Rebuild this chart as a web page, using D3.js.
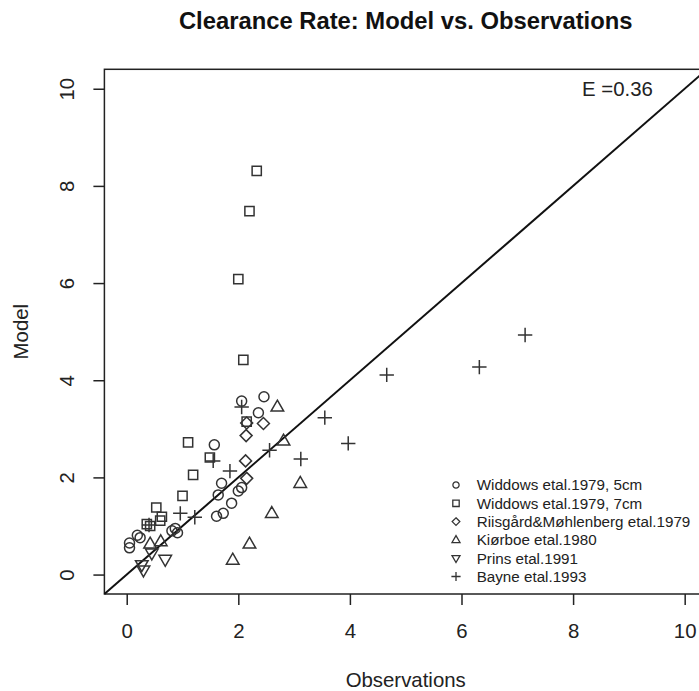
<!DOCTYPE html>
<html>
<head>
<meta charset="utf-8">
<script src="https://cdn.jsdelivr.net/npm/d3@7"></script>
<style>
  html, body { margin: 0; padding: 0; background: #fff; }
  svg { display: block; font-family: "Liberation Sans", Arial, Helvetica, sans-serif; }
</style>
</head>
<body>
<svg id="chart" width="699" height="691"></svg>
<script>
// Observed vs. modelled clearance rates, one array per study: [observation, model]
const widdows5cm = [
  [0.05, 0.65], [0.05, 0.55], [0.19, 0.81], [0.24, 0.76], [0.81, 0.90], [0.87, 0.95],
  [0.91, 0.86], [1.61, 1.20], [1.73, 1.26], [1.88, 1.47], [1.64, 1.64], [1.70, 1.88],
  [2.00, 1.72], [2.06, 1.79], [1.57, 2.67], [2.06, 3.57], [2.46, 3.66], [2.36, 3.33]
];
const widdows7cm = [
  [2.33, 8.31], [2.20, 7.48], [2.00, 6.08], [2.09, 4.42], [2.15, 3.15], [1.10, 2.72],
  [1.49, 2.41], [1.19, 2.05], [1.00, 1.62], [0.53, 1.38], [0.63, 1.19], [0.60, 1.11],
  [0.36, 1.04], [0.42, 1.00]
];
const riisgard = [
  [2.45, 3.11], [2.14, 2.86], [2.13, 2.34], [2.15, 1.98], [2.15, 3.12]
];
const kiorboe = [
  [2.70, 3.45], [2.81, 2.75], [3.11, 1.88], [2.60, 1.26], [2.20, 0.63], [1.90, 0.30],
  [0.42, 0.63], [0.61, 0.68]
];
const prins = [
  [0.45, 0.44], [0.69, 0.31], [0.27, 0.20], [0.30, 0.09]
];
const bayne = [
  [7.14, 4.93], [6.32, 4.27], [4.66, 4.11], [3.55, 3.23], [3.97, 2.70], [3.12, 2.38],
  [2.56, 2.56], [2.06, 3.45], [1.55, 2.34], [1.85, 2.13], [0.96, 1.26], [1.22, 1.18],
  [0.40, 1.02]
];

const seriesNames = [
  "Widdows etal.1979, 5cm",
  "Widdows etal.1979, 7cm",
  "Riisgård&Møhlenberg etal.1979",
  "Kiørboe etal.1980",
  "Prins etal.1991",
  "Bayne etal.1993"
];
const seriesShapes = ["circle", "square", "diamond", "triangleUp", "triangleDown", "plus"];
const seriesData = [widdows5cm, widdows7cm, riisgard, kiorboe, prins, bayne];

const tickValues = [0, 2, 4, 6, 8, 10];
const efficiencyLabel = "E =0.36";
const titleText = "Clearance Rate: Model vs. Observations";
const xTitle = "Observations";
const yTitle = "Model";

const ink = "#222";
const svg = d3.select("#chart");

// plotting region (axis ranges padded 4% beyond 0..10)
const plot = { left: 104.4, right: 707, top: 69.3, bottom: 594 };
const x = d3.scaleLinear().domain([-0.4, 10.4]).range([plot.left, plot.right]);
const y = d3.scaleLinear().domain([-0.4, 10.4]).range([plot.bottom, plot.top]);

// symbol path builders, s = half-extent in px
function shapePath(shape, s) {
  switch (shape) {
    case "circle":
      return `M${s},0A${s},${s} 0 1,1 ${-s},0A${s},${s} 0 1,1 ${s},0Z`;
    case "square":
      return `M${-s},${-s}H${s}V${s}H${-s}Z`;
    case "diamond":
      return `M0,${-s}L${s},0L0,${s}L${-s},0Z`;
    case "triangleUp": {
      const h = s * 1.732;
      return `M0,${-h * 0.62}L${s},${h * 0.38}L${-s},${h * 0.38}Z`;
    }
    case "triangleDown": {
      const h = s * 1.732;
      return `M0,${h * 0.62}L${s},${-h * 0.38}L${-s},${-h * 0.38}Z`;
    }
    case "plus":
      return `M${-s},0H${s}M0,${-s}V${s}`;
  }
}
const plotSize = { circle: 5, square: 4.6, diamond: 6, triangleUp: 6.3, triangleDown: 6.3, plus: 7.2 };
const legendSize = { circle: 3.1, square: 3.2, diamond: 3.8, triangleUp: 4, triangleDown: 4, plus: 4.6 };

// title
svg.append("text")
  .attr("x", (plot.left + plot.right) / 2)
  .attr("y", 29)
  .attr("text-anchor", "middle")
  .attr("font-weight", "bold")
  .attr("font-size", 23.8)
  .attr("fill", "#111")
  .text(titleText);

// axes
const xAxis = svg.append("g")
  .attr("transform", `translate(0,${plot.bottom})`)
  .call(d3.axisBottom(x).tickValues(tickValues).tickSize(11).tickFormat(d3.format("d")));
xAxis.select(".domain").remove();
xAxis.selectAll("line").attr("stroke", ink).attr("stroke-width", 1.5);
xAxis.selectAll("text")
  .attr("y", 37).attr("dy", "0.35em")
  .attr("font-size", 20.4).attr("fill", ink);

const yAxis = svg.append("g")
  .attr("transform", `translate(${plot.left},0)`)
  .call(d3.axisLeft(y).tickValues(tickValues).tickSize(11).tickFormat(d3.format("d")));
yAxis.select(".domain").remove();
yAxis.selectAll("line").attr("stroke", ink).attr("stroke-width", 1.5);
yAxis.selectAll("text")
  .attr("x", null)
  .attr("transform", "translate(-38,0) rotate(-90)")
  .attr("text-anchor", "middle")
  .attr("dy", "0.35em")
  .attr("font-size", 20.4).attr("fill", ink);

// axis titles
svg.append("text")
  .attr("x", (plot.left + plot.right) / 2)
  .attr("y", 680).attr("dy", "0.35em")
  .attr("text-anchor", "middle")
  .attr("font-size", 20.4).attr("fill", ink)
  .text(xTitle);
svg.append("text")
  .attr("transform", `translate(21,${(plot.top + plot.bottom) / 2}) rotate(-90)`)
  .attr("dy", "0.35em")
  .attr("text-anchor", "middle")
  .attr("font-size", 20.4).attr("fill", ink)
  .text(yTitle);

// plot frame
svg.append("rect")
  .attr("x", plot.left).attr("y", plot.top)
  .attr("width", plot.right - plot.left).attr("height", plot.bottom - plot.top)
  .attr("fill", "none").attr("stroke", ink).attr("stroke-width", 1.5);

// 1:1 line
svg.append("line")
  .attr("x1", x(-0.4)).attr("y1", y(-0.4))
  .attr("x2", x(10.4)).attr("y2", y(10.4))
  .attr("stroke", "#111").attr("stroke-width", 2);

// points
seriesData.forEach((data, i) => {
  const shape = seriesShapes[i];
  svg.append("g").selectAll("path")
    .data(data)
    .join("path")
    .attr("transform", d => `translate(${x(d[0])},${y(d[1])})`)
    .attr("d", shapePath(shape, plotSize[shape]))
    .attr("fill", "none")
    .attr("stroke", "#333")
    .attr("stroke-width", 1.5);
});

// efficiency label
svg.append("text")
  .attr("x", 582).attr("y", 89).attr("dy", "0.35em")
  .attr("font-size", 20.4).attr("fill", ink)
  .text(efficiencyLabel);

// legend
const legend = svg.append("g");
seriesNames.forEach((name, i) => {
  const shape = seriesShapes[i];
  const ly = 485 + i * 18.3;
  legend.append("path")
    .attr("transform", `translate(456,${ly})`)
    .attr("d", shapePath(shape, legendSize[shape]))
    .attr("fill", "none").attr("stroke", "#333").attr("stroke-width", 1.3);
  legend.append("text")
    .attr("x", 476.7).attr("y", ly).attr("dy", "0.35em")
    .attr("font-size", 15.2).attr("fill", ink)
    .text(name);
});
</script>
</body>
</html>
